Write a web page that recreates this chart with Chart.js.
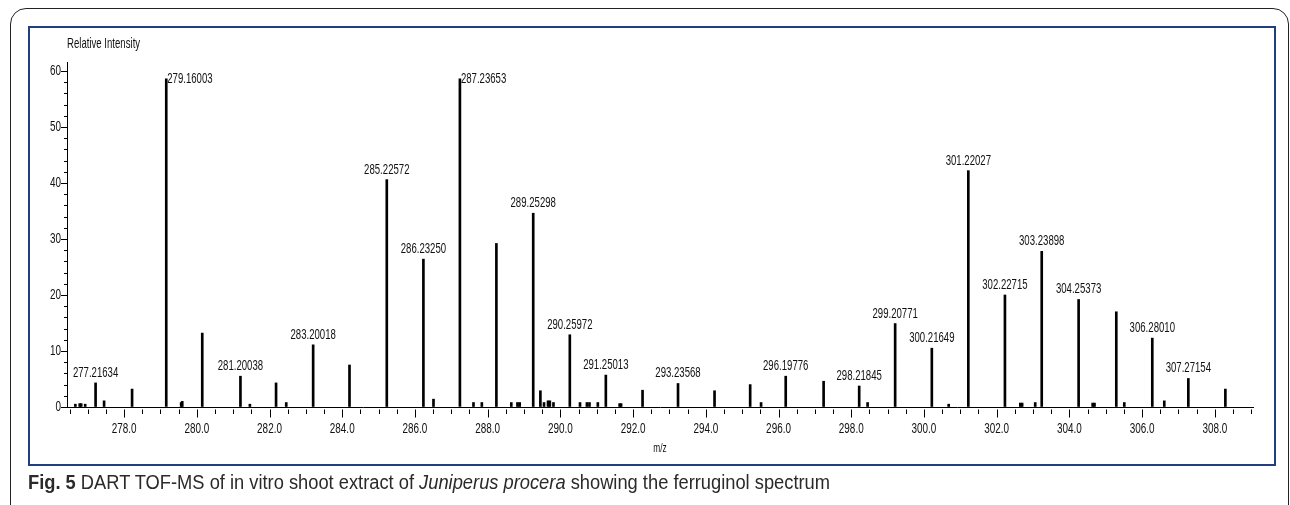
<!DOCTYPE html>
<html>
<head>
<meta charset="utf-8">
<title>DART TOF-MS spectrum</title>
<script src="https://cdn.jsdelivr.net/npm/chart.js@4.4.1/dist/chart.umd.min.js"></script>
<style>
  html, body { margin: 0; padding: 0; background: #fff; width: 1290px; height: 505px; overflow: hidden; }
  #outer { position: absolute; left: 10px; top: 8px; width: 1279px; height: 560px;
           border: 1.5px solid #222; border-radius: 16px 16px 0 0; box-sizing: border-box; }
  #panel { position: absolute; left: 28px; top: 26px; width: 1248px; height: 440px;
           border: 2px solid #213f7e; box-sizing: border-box; }
  #cv { position: absolute; left: 0; top: 0; }
  #caption { position: absolute; left: 28px; top: 471px; white-space: nowrap;
             font-family: 'Liberation Sans', Arial, sans-serif;
             font-size: 20px; color: #2a2a2a; transform-origin: 0 50%; }
  #caption b { font-weight: bold; }
</style>
</head>
<body>
<div id="outer"></div>
<div id="panel"></div>
<canvas id="cv" width="1290" height="505"></canvas>
<div id="caption"><b>Fig. 5</b> DART TOF-MS of in vitro shoot extract of <i>Juniperus procera</i> showing the ferruginol spectrum</div>

<script>
// Peak positions (m/z) and relative intensities
const mz = [
  276.66, 276.78, 276.82, 276.93, 277.21634, 277.45, 278.22, 279.16003, 279.57, 279.60,
  280.15, 281.20038, 281.46, 282.18, 282.46, 283.20018, 284.20, 285.22572, 286.23250, 286.51,
  287.23653, 287.61, 287.84, 288.24, 288.65, 288.82, 288.88, 289.25298, 289.45, 289.55,
  289.66, 289.71, 289.81, 290.25972, 290.54, 290.73, 290.80, 291.03, 291.25013, 291.63,
  291.67, 292.26, 293.23568, 294.24, 295.22, 295.52, 296.19776, 297.24, 298.21845, 298.45,
  299.20771, 300.21649, 300.68, 301.22027, 302.22715, 302.65, 302.70, 303.06, 303.23898, 304.25373,
  304.64, 304.69, 305.29, 305.51, 306.28010, 306.61, 307.27154, 308.29
];
const intensity = [
  0.5, 0.6, 0.6, 0.5, 4.3, 1.1, 3.2, 58.6, 0.8, 1.0,
  13.2, 5.5, 0.5, 4.3, 0.8, 11.1, 7.5, 40.6, 26.4, 1.4,
  58.6, 0.8, 0.8, 29.2, 0.8, 0.8, 0.8, 34.6, 2.9, 0.8,
  1.1, 1.1, 0.8, 12.9, 0.8, 0.8, 0.8, 0.8, 5.7, 0.6,
  0.6, 3.0, 4.2, 2.9, 4.0, 0.8, 5.5, 4.6, 3.75, 0.8,
  14.9, 10.5, 0.5, 42.2, 20.0, 0.7, 0.7, 0.8, 27.8, 19.2,
  0.7, 0.7, 17.0, 0.8, 12.3, 1.1, 5.1, 3.2
];
// Annotated peaks; the first two carry their label beside the peak top
const annotated = [
  '277.21634', '279.16003', '281.20038', '283.20018', '285.22572', '286.23250', '287.23653',
  '289.25298', '290.25972', '291.25013', '293.23568', '296.19776', '298.21845', '299.20771',
  '300.21649', '301.22027', '302.22715', '303.23898', '304.25373', '306.28010', '307.27154'
];
const sideLabelled = ['279.16003', '287.23653'];
const xTickValues = [278, 280, 282, 284, 286, 288, 290, 292, 294, 296, 298, 300, 302, 304, 306, 308];
const yTickValues = [0, 10, 20, 30, 40, 50, 60];
const xRange = [276.43, 309.05];
const yRange = [0, 61.6];

const FONT = "'Liberation Sans', Arial, sans-serif";
const NARROW = 0.64;   // horizontal squeeze for the condensed instrument font

function narrowText(ctx, txt, x, y, size, align, baseline) {
  ctx.save();
  ctx.font = size + 'px ' + FONT;
  ctx.textAlign = align;
  ctx.textBaseline = baseline;
  ctx.translate(x, y);
  ctx.scale(NARROW, 1);
  ctx.fillText(txt, 0, 0);
  ctx.restore();
}

const points = mz.map((x, i) => ({ x: x, y: intensity[i] }));

// Axis tick marks and labels, peak annotations and axis captions
const spectrumDecor = {
  id: 'spectrumDecor',
  afterDatasetsDraw(chart) {
    const { ctx, chartArea: a, scales: { x, y } } = chart;
    ctx.save();
    ctx.strokeStyle = '#000';
    ctx.fillStyle = '#111';
    ctx.lineWidth = 1;
    ctx.beginPath();
    // x ticks every 0.5, longer at labelled values
    for (let k = Math.ceil(xRange[0] * 2); k <= Math.floor(xRange[1] * 2); k++) {
      const v = k / 2;
      const px = Math.round(x.getPixelForValue(v)) + 0.5;
      const major = xTickValues.includes(v);
      ctx.moveTo(px, a.bottom + 2.5);
      ctx.lineTo(px, a.bottom + (major ? 10.5 : 7));
    }
    // y ticks every 2, longer every 10
    for (let v = 0; v <= yRange[1]; v += 2) {
      const py = Math.round(y.getPixelForValue(v)) + 0.5;
      const major = yTickValues.includes(v);
      ctx.moveTo(a.left, py);
      ctx.lineTo(a.left - (major ? 6 : 3), py);
    }
    ctx.stroke();

    xTickValues.forEach(v => {
      narrowText(ctx, v.toFixed(1), x.getPixelForValue(v), a.bottom + 22, 15.5, 'center', 'middle');
    });
    yTickValues.forEach(v => {
      narrowText(ctx, String(v), a.left - 6, y.getPixelForValue(v), 15.5, 'right', 'middle');
    });

    // peak labels
    mz.forEach((m, i) => {
      const txt = m.toFixed(5);
      if (!annotated.includes(txt)) return;
      const px = x.getPixelForValue(m);
      const py = y.getPixelForValue(intensity[i]);
      if (sideLabelled.includes(txt)) {
        narrowText(ctx, txt, px + 1, py + 0.5, 15, 'left', 'middle');
      } else {
        narrowText(ctx, txt, px, py - 6, 15, 'center', 'alphabetic');
      }
    });

    // axis captions
    narrowText(ctx, 'Relative Intensity', 67, 44, 15, 'left', 'middle');
    narrowText(ctx, 'm/z', (a.left + a.right) / 2, 448, 13, 'center', 'middle');
    ctx.restore();
  }
};

new Chart(document.getElementById('cv'), {
  type: 'bar',
  data: {
    datasets: [{
      data: points,
      backgroundColor: '#000',
      borderWidth: 0,
      barThickness: 2
    }]
  },
  options: {
    responsive: false,
    animation: false,
    events: [],
    layout: { padding: { top: 62, right: 37, left: 0, bottom: 0 } },
    plugins: { legend: { display: false }, tooltip: { enabled: false } },
    scales: {
      x: {
        type: 'linear',
        min: xRange[0],
        max: xRange[1],
        offset: false,
        grid: { display: true, drawOnChartArea: false, drawTicks: false, offset: false },
        border: { display: true, color: '#000', width: 1 },
        afterBuildTicks: s => { s.ticks = xTickValues.map(v => ({ value: v })); },
        afterFit: s => { s.height = 98; },
        ticks: { display: false }
      },
      y: {
        min: yRange[0],
        max: yRange[1],
        grid: { display: true, drawOnChartArea: false, drawTicks: false },
        border: { display: true, color: '#000', width: 1 },
        afterBuildTicks: s => { s.ticks = yTickValues.map(v => ({ value: v })); },
        afterFit: s => { s.width = 67; },
        ticks: { display: false }
      }
    }
  },
  plugins: [spectrumDecor]
});

// Condense the caption line to the panel's text column
const caption = document.getElementById('caption');
const capWidth = caption.getBoundingClientRect().width;
caption.style.transform = 'scaleX(' + (802 / capWidth).toFixed(4) + ')';
</script>
</body>
</html>
